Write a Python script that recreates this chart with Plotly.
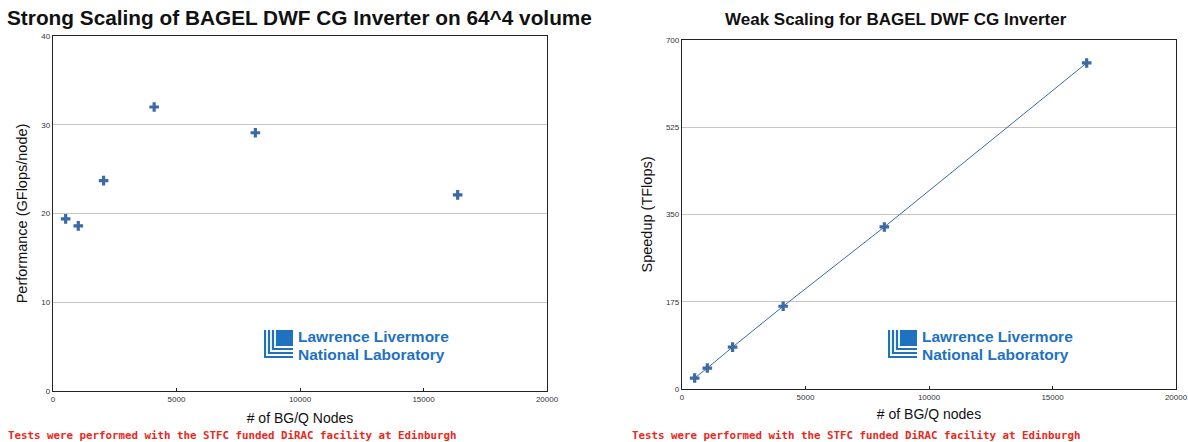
import plotly.graph_objects as go

W, H = 1188, 442

# ---- data ----
nodes = [512, 1024, 2048, 4096, 8192, 16384]
strong_perf = [19.4, 18.6, 23.7, 32.0, 29.1, 22.1]      # GFlops/node
weak_nodes = [512, 1024, 2048, 4096, 8192, 16384]
weak_speedup = [22, 42, 84, 166, 325, 654]               # TFlops
left_yticks = [0, 10, 20, 30, 40]
right_yticks = [0, 175, 350, 525, 700]
xticks = [0, 5000, 10000, 15000, 20000]
xtick_labels = [str(v) for v in xticks]

BLUE = "#3b6aa5"
LOGO = "#1f72c0"

def px(x):
    return x / W

def py(y):
    return 1 - y / H

fig = go.Figure()

fig.add_trace(go.Scatter(x=nodes, y=strong_perf, mode="markers",
                         marker=dict(symbol="cross", size=8, color=BLUE),
                         xaxis="x", yaxis="y", showlegend=False))
fig.add_trace(go.Scatter(x=weak_nodes, y=weak_speedup, mode="lines+markers",
                         line=dict(color=BLUE, width=1),
                         marker=dict(symbol="cross", size=8, color=BLUE),
                         xaxis="x2", yaxis="y2", showlegend=False))

axfont = dict(family="Liberation Sans, Arial", size=8, color="#333")
common_x = dict(range=[0, 20000], tickvals=xticks, ticktext=xtick_labels,
                ticks="inside", ticklen=3, automargin=False,
                tickcolor="#222", showline=True, linecolor="#222", linewidth=1.3,
                mirror=True, showgrid=False, zeroline=False, tickfont=axfont,
                title_font=dict(family="Liberation Sans, Arial", size=14, color="#111"))
common_y = dict(showline=True, linecolor="#222", linewidth=1.3, mirror=True,
                showgrid=True, gridcolor="#c4c4c4", gridwidth=1, zeroline=False,
                ticks="", tickfont=axfont, automargin=False,
                title_font=dict(family="Liberation Sans, Arial", size=14.5, color="#111"))

fig.update_layout(
    width=W, height=H, margin=dict(l=0, r=0, t=0, b=0, autoexpand=False),
    plot_bgcolor="white", paper_bgcolor="white",
    xaxis=dict(domain=[px(53), px(547)], anchor="y",
               title=dict(text="# of BG/Q Nodes", standoff=10), **common_x),
    yaxis=dict(domain=[py(391), py(36)], anchor="x", range=[0, 40],
               tickvals=left_yticks,
               title=dict(text="Performance (GFlops/node)", standoff=10), **common_y),
    xaxis2=dict(domain=[px(682), px(1176)], anchor="y2",
                title=dict(text="# of BG/Q nodes", standoff=8), **common_x),
    yaxis2=dict(domain=[py(389), py(40)], anchor="x2", range=[0, 700],
                tickvals=right_yticks,
                title=dict(text="Speedup (TFlops)", standoff=9), **common_y),
)

annotations = [
    dict(text="<b>Strong Scaling of BAGEL DWF CG Inverter on 64^4 volume</b>",
         x=px(299), y=py(18), xref="paper", yref="paper", showarrow=False,
         xanchor="center", yanchor="middle",
         font=dict(family="Liberation Sans, Arial", size=20.8, color="#111")),
    dict(text="<b>Weak Scaling for BAGEL DWF CG Inverter</b>",
         x=px(896), y=py(20), xref="paper", yref="paper", showarrow=False,
         xanchor="center", yanchor="middle",
         font=dict(family="Liberation Sans, Arial", size=17, color="#111")),
]
foot = "<b>Tests were performed with the STFC funded DiRAC facility at Edinburgh</b>"
for fx in (7, 631):
    annotations.append(dict(text=foot, x=px(fx), y=py(435), xref="paper", yref="paper",
                            xanchor="left", yanchor="middle", showarrow=False, borderpad=0,
                            font=dict(family="DejaVu Sans Mono", size=10.8, color="#e8291c")))

shapes = []
for lx in (264, 888):
    # logo text
    for txt, ty in (("Lawrence Livermore", 336), ("National Laboratory", 354)):
        annotations.append(dict(text=txt, x=px(lx + 33), y=py(ty), xref="paper", yref="paper",
                                xanchor="left", yanchor="middle", showarrow=False, borderpad=0,
                                font=dict(family="Liberation Sans, Arial", size=15.5,
                                          color=LOGO, weight=600)))
    # logo icon: blue block with white nested L stripes
    x0, y0, x1, y1 = lx, 330, lx + 29, 358
    shapes.append(dict(type="rect", xref="paper", yref="paper",
                       x0=px(x0), x1=px(x1), y0=py(y1), y1=py(y0),
                       fillcolor=LOGO, line=dict(width=0)))
    for off in (3, 7, 11):
        xs = x0 + off
        yb = y1 - off
        path = f"M {px(xs)} {py(y0)} L {px(xs)} {py(yb)} L {px(x1)} {py(yb)}"
        shapes.append(dict(type="path", xref="paper", yref="paper", path=path,
                           line=dict(color="white", width=1.8)))

fig.update_layout(annotations=annotations, shapes=shapes)
fig.write_html("out.html")
